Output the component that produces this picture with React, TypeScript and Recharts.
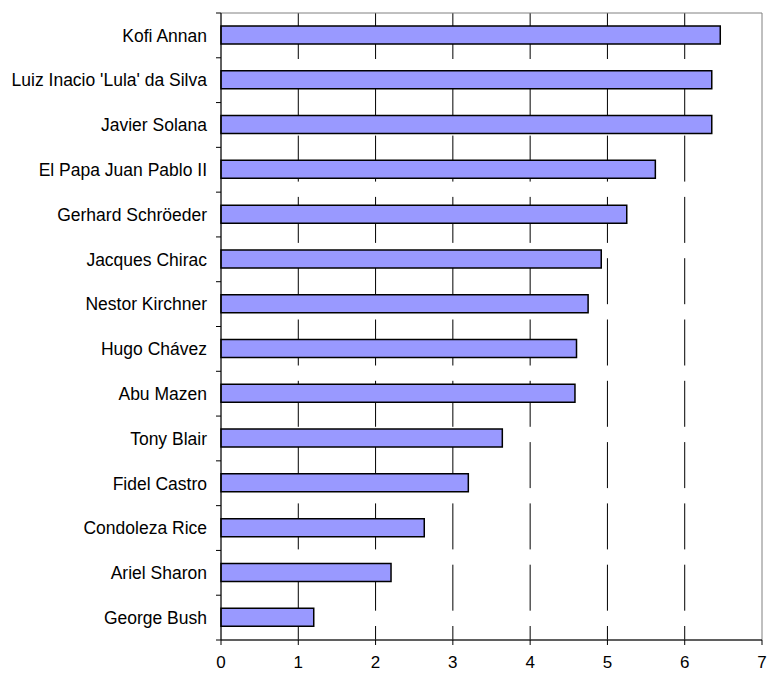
import { BarChart, Bar, XAxis, YAxis, CartesianGrid, ReferenceArea } from 'recharts';

const names = [
    'Kofi Annan',
    "Luiz Inacio 'Lula' da Silva",
    'Javier Solana',
    'El Papa Juan Pablo II',
    'Gerhard Schröeder',
    'Jacques Chirac',
    'Nestor Kirchner',
    'Hugo Chávez',
    'Abu Mazen',
    'Tony Blair',
    'Fidel Castro',
    'Condoleza Rice',
    'Ariel Sharon',
    'George Bush',
];
const scores = [6.46, 6.35, 6.35, 5.62, 5.25, 4.92, 4.75, 4.6, 4.58, 3.64, 3.2, 2.63, 2.2, 1.2];
const xTicks = [0, 1, 2, 3, 4, 5, 6, 7];
const gridValues = [1, 2, 3, 4, 5, 6];

const data = names.map((name, i) => ({ name, score: scores[i] }));

const W = 768;
const H = 673;
const M = { top: 13, right: 6, bottom: 0, left: 0 };
const Y_AXIS_W = 221;
const X_AXIS_H = 33;
const PLOT_H = H - M.top - M.bottom - X_AXIS_H;
const FONT = '"Liberation Sans", Arial, sans-serif';

// labels in the middle of each band, tick marks on the band edges
const CategoryTick = (props: any) => {
    const { x, y, payload, index } = props;
    const band = PLOT_H / names.length;
    const ax = x + 14;
    return (
        <g>
            <line x1={ax} x2={ax - 5} y1={y - band / 2} y2={y - band / 2} stroke="#000" />
            {index === names.length - 1 && (
                <line x1={ax} x2={ax - 5} y1={y + band / 2} y2={y + band / 2} stroke="#000" />
            )}
            <text x={x} y={y} dy="0.36em" textAnchor="end" fontSize={17.5} fontFamily={FONT} fill="#000">
                {payload.value}
            </text>
        </g>
    );
};

export default function App() {
    return (
        <div style={{ position: 'absolute', left: 0, top: 0 }}>
            <BarChart width={W} height={H} data={data} layout="vertical" margin={M}>
                <CartesianGrid horizontal={false} verticalValues={gridValues} stroke="#000" strokeDasharray="46 15.3" />
                <ReferenceArea x1={0} x2={7} fill="none" stroke="#808080" strokeWidth={1} />
                <XAxis
                    type="number"
                    domain={[0, 7]}
                    ticks={xTicks}
                    height={X_AXIS_H}
                    stroke="#000"
                    tickSize={5}
                    tickMargin={11}
                    tick={{ fontSize: 17, fontFamily: FONT, fill: '#000' }}
                />
                <YAxis
                    type="category"
                    dataKey="name"
                    width={Y_AXIS_W}
                    stroke="#000"
                    tickLine={false}
                    tickSize={5}
                    tickMargin={9}
                    interval={0}
                    tick={<CategoryTick />}
                />
                <Bar dataKey="score" fill="#9999FF" stroke="#000" strokeWidth={1.5} barSize={18} isAnimationActive={false} />
            </BarChart>
        </div>
    );
}
